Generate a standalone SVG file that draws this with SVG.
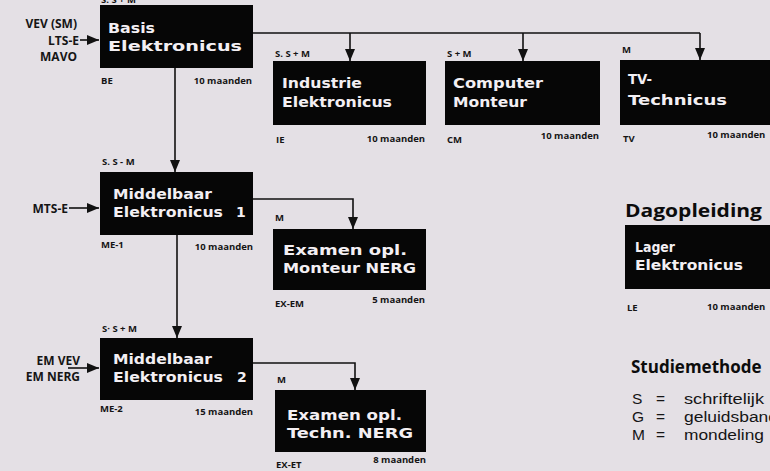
<svg xmlns="http://www.w3.org/2000/svg" width="770" height="471" viewBox="0 0 770 471">
<defs>
<style>
.bg{fill:#e4e0e5}
.box{fill:#060606}
.bt{font-family:"DejaVu Sans","Open Sans",sans-serif;font-weight:700;font-size:14px;fill:#f3eff3}
.sm{font-family:"Open Sans","DejaVu Sans",sans-serif;font-weight:700;font-size:9.5px;fill:#151515}
.smr{font-family:"Open Sans","DejaVu Sans",sans-serif;font-weight:700;font-size:9.5px;fill:#151515;text-anchor:end}
.inl{font-family:"Open Sans","DejaVu Sans",sans-serif;font-weight:700;font-size:12px;fill:#151515;text-anchor:end}
.hd{font-family:"Open Sans","DejaVu Sans",sans-serif;font-weight:700;font-size:17px;fill:#0c0c0c}
.lg{font-family:"Liberation Sans","Open Sans",sans-serif;font-size:15.5px;fill:#151515}
.ln{fill:none;stroke:#111;stroke-width:1.6}
</style>
<marker id="ah" viewBox="0 0 12 10" refX="12" refY="5" markerWidth="12" markerHeight="10" markerUnits="userSpaceOnUse" orient="auto">
<path d="M0,0 L12,5 L0,10 z" fill="#111"/>
</marker>
</defs>
<rect class="bg" x="0" y="0" width="770" height="471"/>

<g id="connectors">
<path class="ln" d="M253,33 H700"/>
<path class="ln" d="M350,33 V61" marker-end="url(#ah)"/>
<path class="ln" d="M523,33 V61" marker-end="url(#ah)"/>
<path class="ln" d="M700,33 V60" marker-end="url(#ah)"/>
<path class="ln" d="M175,68 V172" marker-end="url(#ah)"/>
<path class="ln" d="M177,235 V338" marker-end="url(#ah)"/>
<path class="ln" d="M253,199 H353 V229" marker-end="url(#ah)"/>
<path class="ln" d="M253,363 H355 V390" marker-end="url(#ah)"/>
<path class="ln" d="M80,40 H99" marker-end="url(#ah)"/>
<path class="ln" d="M69,208 H99" marker-end="url(#ah)"/>
<path class="ln" d="M68,368 H99" marker-end="url(#ah)"/>
</g>

<g id="inputs">
<text class="inl" x="77" y="28">VEV (SM)</text>
<text class="inl" x="79" y="45">LTS-E</text>
<text class="inl" x="77" y="61">MAVO</text>
<text class="inl" x="68" y="213">MTS-E</text>
<text class="inl" x="80" y="365">EM VEV</text>
<text class="inl" x="80" y="381">EM NERG</text>
</g>

<g id="BE">
<text class="sm" x="101" y="3">S. S + M</text>
<rect class="box" x="100" y="5" width="153" height="63"/>
<text class="bt" x="108" y="33" textLength="47" lengthAdjust="spacingAndGlyphs">Basis</text>
<text class="bt" x="108" y="51" textLength="134" lengthAdjust="spacingAndGlyphs">Elektronicus</text>
<text class="sm" x="101" y="84">BE</text>
<text class="smr" x="252" y="84">10 maanden</text>
</g>

<g id="IE">
<text class="sm" x="275" y="57">S. S + M</text>
<rect class="box" x="273" y="61" width="153" height="64"/>
<text class="bt" x="282" y="88" textLength="80" lengthAdjust="spacingAndGlyphs">Industrie</text>
<text class="bt" x="282" y="107" textLength="110" lengthAdjust="spacingAndGlyphs">Elektronicus</text>
<text class="sm" x="276" y="143">IE</text>
<text class="smr" x="425" y="142">10 maanden</text>
</g>

<g id="CM">
<text class="sm" x="447" y="57">S + M</text>
<rect class="box" x="445" y="61" width="155" height="64"/>
<text class="bt" x="453" y="88" textLength="90" lengthAdjust="spacingAndGlyphs">Computer</text>
<text class="bt" x="453" y="107" textLength="74" lengthAdjust="spacingAndGlyphs">Monteur</text>
<text class="sm" x="447" y="143">CM</text>
<text class="smr" x="599" y="139">10 maanden</text>
</g>

<g id="TV">
<text class="sm" x="622" y="53">M</text>
<rect class="box" x="620" y="60" width="152" height="65"/>
<text class="bt" x="628" y="84" textLength="24" lengthAdjust="spacingAndGlyphs">TV-</text>
<text class="bt" x="628" y="105" textLength="99" lengthAdjust="spacingAndGlyphs">Technicus</text>
<text class="sm" x="623" y="142">TV</text>
<text class="sm" x="707" y="138">10 maanden</text>
</g>

<g id="ME-1">
<text class="sm" x="102" y="165">S. S - M</text>
<rect class="box" x="100" y="172" width="153" height="63"/>
<text class="bt" x="113" y="199" textLength="99" lengthAdjust="spacingAndGlyphs">Middelbaar</text>
<text class="bt" x="113" y="217" textLength="110" lengthAdjust="spacingAndGlyphs">Elektronicus</text>
<text class="bt" x="236" y="217">1</text>
<text class="sm" x="101" y="248">ME-1</text>
<text class="smr" x="253" y="250">10 maanden</text>
</g>

<g id="EX-EM">
<text class="sm" x="275" y="221">M</text>
<rect class="box" x="273" y="229" width="153" height="61"/>
<text class="bt" x="283" y="255" textLength="124" lengthAdjust="spacingAndGlyphs">Examen opl.</text>
<text class="bt" x="283" y="273" textLength="133" lengthAdjust="spacingAndGlyphs">Monteur NERG</text>
<text class="sm" x="275" y="307">EX-EM</text>
<text class="smr" x="425" y="303">5 maanden</text>
</g>

<g id="ME-2">
<text class="sm" x="102" y="332">S· S + M</text>
<rect class="box" x="100" y="338" width="153" height="62"/>
<text class="bt" x="113" y="364" textLength="99" lengthAdjust="spacingAndGlyphs">Middelbaar</text>
<text class="bt" x="113" y="382" textLength="110" lengthAdjust="spacingAndGlyphs">Elektronicus</text>
<text class="bt" x="237" y="382">2</text>
<text class="sm" x="100" y="412">ME-2</text>
<text class="smr" x="253" y="415">15 maanden</text>
</g>

<g id="EX-ET">
<text class="sm" x="277" y="383">M</text>
<rect class="box" x="275" y="390" width="151" height="62"/>
<text class="bt" x="287" y="420" textLength="115" lengthAdjust="spacingAndGlyphs">Examen  opl.</text>
<text class="bt" x="287" y="438" textLength="126" lengthAdjust="spacingAndGlyphs">Techn.  NERG</text>
<text class="sm" x="276" y="468">EX-ET</text>
<text class="smr" x="426" y="463">8 maanden</text>
</g>

<g id="Dagopleiding">
<text class="hd" x="625" y="217" textLength="137" lengthAdjust="spacingAndGlyphs">Dagopleiding</text>
</g>

<g id="LE">
<rect class="box" x="625" y="225" width="147" height="64"/>
<text class="bt" x="635" y="252" textLength="40" lengthAdjust="spacingAndGlyphs">Lager</text>
<text class="bt" x="635" y="270" textLength="108" lengthAdjust="spacingAndGlyphs">Elektronicus</text>
<text class="sm" x="627" y="311">LE</text>
<text class="sm" x="707" y="310">10 maanden</text>
</g>

<g id="Studiemethode">
<text class="hd" x="631" y="373">Studiemethode</text>
<text class="lg" x="632" y="404">S</text>
<text class="lg" x="656" y="404">=</text>
<text class="lg" x="684" y="404" textLength="80" lengthAdjust="spacingAndGlyphs">schriftelijk</text>
<text class="lg" x="632" y="422">G</text>
<text class="lg" x="656" y="422">=</text>
<text class="lg" x="684" y="422" textLength="94" lengthAdjust="spacingAndGlyphs">geluidsband</text>
<text class="lg" x="632" y="440">M</text>
<text class="lg" x="656" y="440">=</text>
<text class="lg" x="684" y="440" textLength="80" lengthAdjust="spacingAndGlyphs">mondeling</text>
</g>
</svg>
